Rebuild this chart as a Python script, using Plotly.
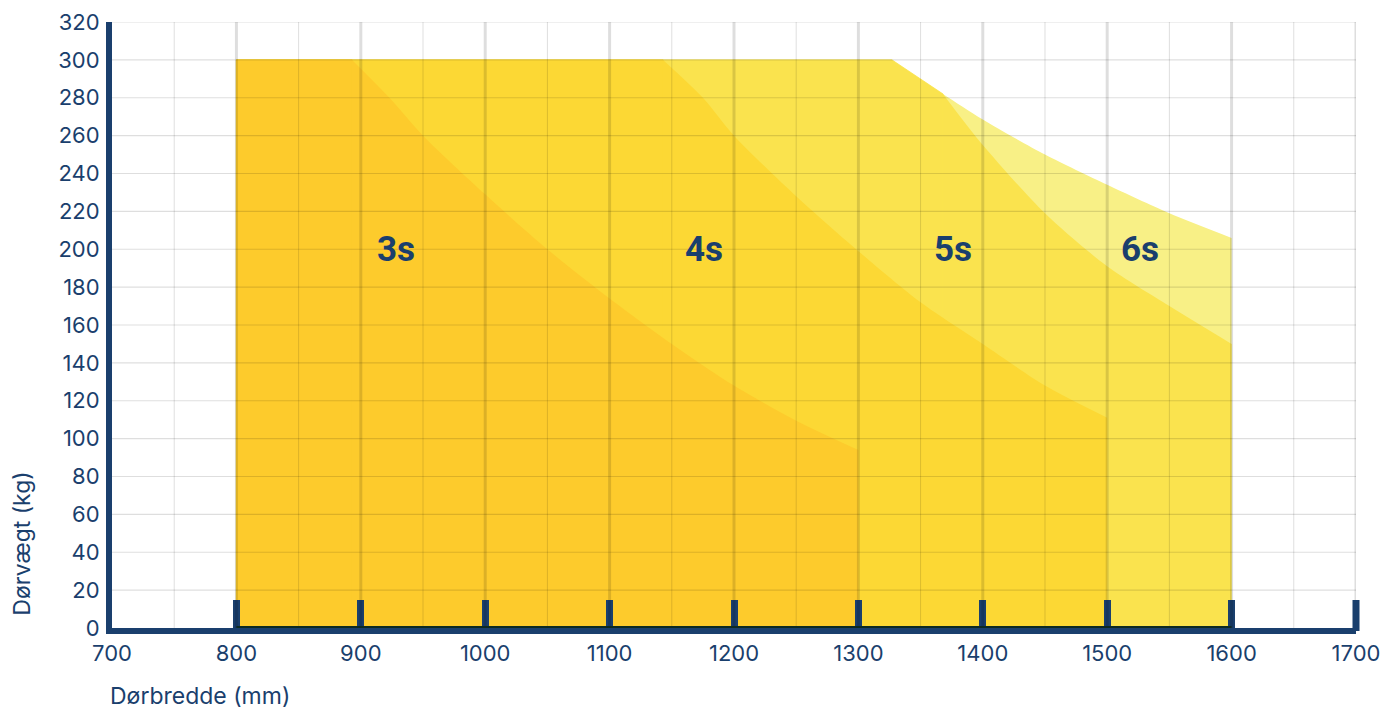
import plotly.graph_objects as go

# ---- data ----
# top boundary of each time zone: door width (mm) -> max door weight (kg)
x_6s = [800, 1327, 1368, 1400, 1450, 1500, 1550, 1600]
y_6s = [300, 300, 282, 268.5, 250, 234, 219, 206]

x_5s = [800, 1327, 1368, 1400, 1450, 1500, 1550, 1600]
y_5s = [300, 300, 282, 255, 219, 191, 170, 150]

x_4s = [800, 1143, 1175, 1200, 1250, 1300, 1350, 1400, 1450, 1500]
y_4s = [300, 300, 280, 260, 228, 199, 172, 150, 128, 111]

x_3s = [800, 893, 923, 950, 1000, 1050, 1100, 1150, 1200, 1250, 1300]
y_3s = [300, 300, 280, 260, 229, 200, 174, 150, 128, 109.5, 94]

# index where the straight head of each boundary ends and the curve begins
curve_start = [1, 2, 1, 1]

zone_names = ["6s", "5s", "4s", "3s"]
label_x = [1526, 1376, 1176, 928]
label_y = [200, 200, 200, 200]

x_ticks = [700, 800, 900, 1000, 1100, 1200, 1300, 1400, 1500, 1600, 1700]
y_ticks = [0, 20, 40, 60, 80, 100, 120, 140, 160, 180, 200, 220, 240, 260, 280, 300, 320]

x_title = "Dørbredde (mm)"
y_title = "Dørvægt (kg)"

# ---- styles ----
NAVY = "#1a3f6d"
FONT = "Inter"
zone_colors = ["#F8F086", "#FAE34E", "#FCD834", "#FDCB2C"]
GRID = "rgba(0,0,0,0.13)"

fig = go.Figure()

zones = [(x_6s, y_6s), (x_5s, y_5s), (x_4s, y_4s), (x_3s, y_3s)]
for (xs, ys), k, name, col in zip(zones, curve_start, zone_names, zone_colors):
    # straight head (flat top and any straight segment) as a polygon
    hx = [xs[0]] + xs[:k + 1] + [xs[k]]
    hy = [0] + ys[:k + 1] + [0]
    fig.add_trace(go.Scatter(
        x=hx, y=hy, mode="lines", fill="toself", fillcolor=col,
        line=dict(width=0.8, color=col), name=name, hoverinfo="skip",
        showlegend=False,
    ))
    # curved tail as a smooth spline filled to the axis
    fig.add_trace(go.Scatter(
        x=xs[k:], y=ys[k:], mode="lines", fill="tozeroy", fillcolor=col,
        line=dict(width=0, color=col, shape="spline", smoothing=0.8),
        name=name, hoverinfo="skip", showlegend=False,
    ))

shapes = []
# grid lines drawn over the zones
for v in range(750, 1701, 50):
    shapes.append(dict(type="line", xref="x", yref="y", x0=v, x1=v, y0=0, y1=320,
                       line=dict(color=GRID, width=3 if v % 100 == 0 else 1),
                       layer="above"))
for h in range(20, 321, 20):
    shapes.append(dict(type="line", xref="x", yref="y", x0=700, x1=1700, y0=h, y1=h,
                       line=dict(color=GRID, width=1.2), layer="above"))
# dark base line under the coloured zones
shapes.append(dict(type="line", xref="x", yref="y", x0=x_6s[0], x1=x_6s[-1], y0=0, y1=0,
                   line=dict(color="#0c2a22", width=4), layer="above"))
# end tick at the right end of the x axis (plotly drops the tick on the plot edge)
shapes.append(dict(type="line", xref="paper", yref="paper", x0=1, x1=1,
                   ysizemode="pixel", yanchor=0, y0=-3, y1=28,
                   line=dict(color=NAVY, width=7), layer="above"))

annotations = []
for name, lx, ly in zip(zone_names, label_x, label_y):
    annotations.append(dict(x=lx, y=ly, xref="x", yref="y", text=f"<b>{name}</b>",
                            showarrow=False,
                            font=dict(family="Roboto", size=35, color=NAVY)))
annotations.append(dict(x=-0.003, y=-0.112, xref="paper", yref="paper", text=x_title,
                        showarrow=False, xanchor="left", yanchor="middle",
                        font=dict(family=FONT, size=23, color=NAVY)))
annotations.append(dict(x=-0.0726, y=0.0165, xref="paper", yref="paper", text=y_title,
                        showarrow=False, xanchor="center", yanchor="bottom", textangle=-90,
                        font=dict(family=FONT, size=23, color=NAVY)))

fig.update_layout(
    width=1381, height=709,
    margin=dict(l=112, r=25, t=22, b=81, autoexpand=False),
    paper_bgcolor="white", plot_bgcolor="white",
    shapes=shapes, annotations=annotations,
    xaxis=dict(range=[699.98, 1700.02], tickvals=x_ticks, showgrid=False, zeroline=False,
               showline=True, linecolor=NAVY, linewidth=6, automargin=False,
               ticks="inside", ticklen=28, tickwidth=7, tickcolor=NAVY,
               tickfont=dict(family=FONT, size=22, color=NAVY),
               ticklabelstandoff=1, ticklabeloverflow="allow", fixedrange=True),
    yaxis=dict(range=[0, 320], tickvals=y_ticks, showgrid=False, zeroline=False,
               showline=True, linecolor=NAVY, linewidth=6, ticks="", automargin=False,
               tickfont=dict(family=FONT, size=22, color=NAVY),
               ticklabelstandoff=2, fixedrange=True),
)

fig.write_html(
    "out.html",
    config={"displayModeBar": False, "staticPlot": True},
    post_script="document.body.style.margin='0';document.body.style.overflow='hidden';",
)
